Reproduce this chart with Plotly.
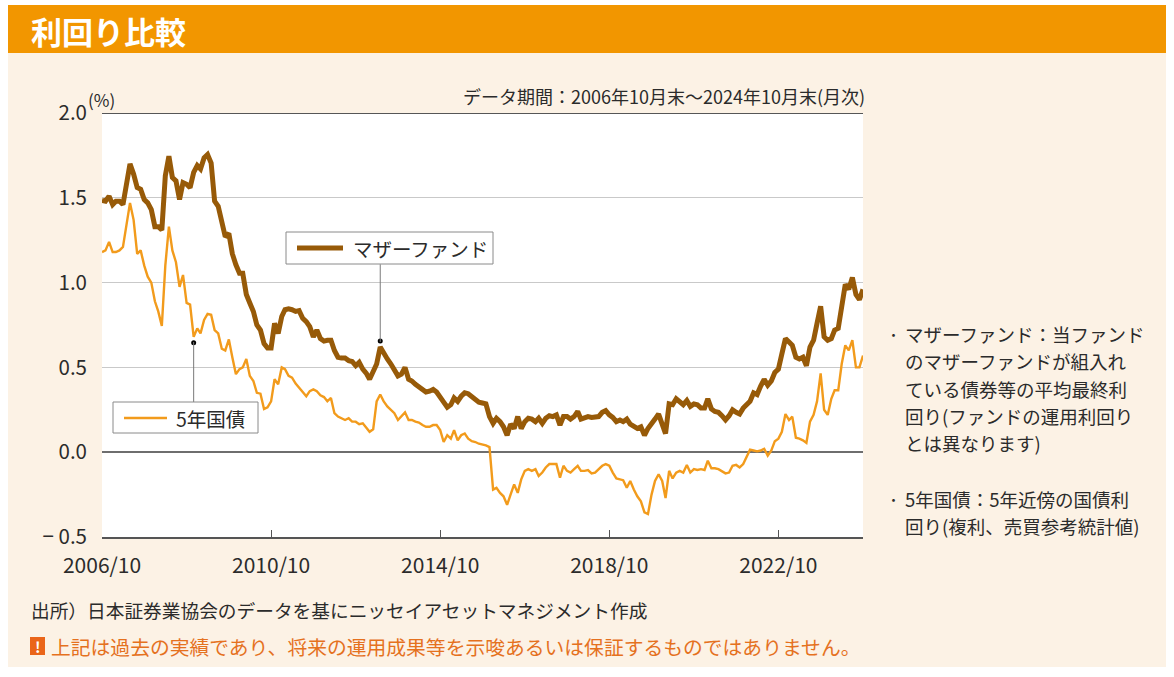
import pandas as pd
import plotly.graph_objects as go

# ---------------- data (monthly, 2006/10 - 2024/10) ----------------
n_months = 217
dates = pd.date_range(start="2006-10-31", periods=n_months, freq="ME")

mother_fund = [
    1.485, 1.48, 1.51, 1.46, 1.48, 1.48, 1.46, 1.60, 1.70, 1.64,
    1.56, 1.55, 1.49, 1.47, 1.43, 1.33, 1.33, 1.31, 1.63, 1.745,
    1.62, 1.60, 1.49, 1.59, 1.58, 1.56, 1.65, 1.69, 1.67, 1.735,
    1.755, 1.705, 1.48, 1.45, 1.37, 1.27, 1.29, 1.17, 1.105, 1.055,
    1.055, 0.93, 0.88, 0.83, 0.75, 0.72, 0.64, 0.615, 0.615, 0.76,
    0.70, 0.80, 0.84, 0.845, 0.84, 0.83, 0.835, 0.79, 0.77, 0.74,
    0.68, 0.72, 0.67, 0.655, 0.66, 0.66, 0.60, 0.56, 0.555, 0.555,
    0.54, 0.535, 0.51, 0.53, 0.49, 0.465, 0.43, 0.47, 0.52, 0.62,
    0.58, 0.55, 0.52, 0.49, 0.45, 0.46, 0.50, 0.43, 0.42, 0.40,
    0.385, 0.37, 0.355, 0.36, 0.37, 0.355, 0.33, 0.295, 0.265, 0.28,
    0.32, 0.30, 0.33, 0.35, 0.345, 0.325, 0.305, 0.295, 0.29, 0.285,
    0.21, 0.17, 0.20, 0.18, 0.15, 0.10, 0.165, 0.14, 0.21, 0.14,
    0.18, 0.20, 0.195, 0.18, 0.20, 0.17, 0.20, 0.215, 0.21, 0.22,
    0.16, 0.21, 0.21, 0.195, 0.21, 0.24, 0.195, 0.20, 0.21, 0.205,
    0.205, 0.21, 0.235, 0.245, 0.22, 0.205, 0.18, 0.19, 0.18, 0.195,
    0.165, 0.155, 0.14, 0.15, 0.10, 0.14, 0.175, 0.195, 0.225, 0.16,
    0.11, 0.285, 0.28, 0.315, 0.295, 0.28, 0.305, 0.27, 0.285, 0.28,
    0.26, 0.26, 0.315, 0.255, 0.24, 0.235, 0.215, 0.19, 0.215, 0.25,
    0.235, 0.225, 0.26, 0.28, 0.30, 0.35, 0.34, 0.39, 0.43, 0.395,
    0.42, 0.47, 0.49, 0.58, 0.67, 0.65, 0.63, 0.56, 0.55, 0.56,
    0.51, 0.62, 0.66, 0.76, 0.86, 0.68, 0.66, 0.67, 0.72, 0.73,
    0.88, 0.99, 0.96, 1.03, 0.93, 0.90, 0.96,
]

jgb_5y = [
    1.18, 1.19, 1.24, 1.18, 1.18, 1.19, 1.21, 1.35, 1.47, 1.37,
    1.17, 1.19, 1.10, 1.035, 1.00, 0.89, 0.83, 0.745, 1.10, 1.33,
    1.19, 1.12, 0.975, 1.045, 0.88, 0.87, 0.68, 0.73, 0.70, 0.78,
    0.815, 0.81, 0.72, 0.70, 0.61, 0.60, 0.665, 0.56, 0.46, 0.49,
    0.50, 0.55, 0.45, 0.42, 0.35, 0.345, 0.255, 0.265, 0.30, 0.43,
    0.40, 0.50, 0.49, 0.45, 0.44, 0.405, 0.38, 0.36, 0.33, 0.36,
    0.37, 0.36, 0.335, 0.325, 0.30, 0.32, 0.23, 0.21, 0.20, 0.19,
    0.20, 0.18, 0.18, 0.165, 0.17, 0.14, 0.12, 0.135, 0.30, 0.34,
    0.30, 0.27, 0.25, 0.23, 0.19, 0.21, 0.235, 0.19, 0.19, 0.18,
    0.175, 0.16, 0.15, 0.15, 0.16, 0.16, 0.13, 0.06, 0.10, 0.08,
    0.13, 0.07, 0.10, 0.11, 0.08, 0.065, 0.06, 0.05, 0.045, 0.04,
    0.03, -0.22, -0.21, -0.24, -0.26, -0.31, -0.25, -0.19, -0.24, -0.16,
    -0.11, -0.10, -0.11, -0.10, -0.14, -0.12, -0.09, -0.07, -0.07, -0.07,
    -0.15, -0.08, -0.11, -0.12, -0.10, -0.08, -0.11, -0.11, -0.105, -0.125,
    -0.12, -0.10, -0.08, -0.07, -0.08, -0.12, -0.155, -0.16, -0.165, -0.21,
    -0.17, -0.22, -0.26, -0.29, -0.355, -0.365, -0.25, -0.17, -0.13, -0.17,
    -0.27, -0.11, -0.155, -0.12, -0.11, -0.12, -0.075, -0.12, -0.10, -0.105,
    -0.10, -0.105, -0.05, -0.095, -0.095, -0.10, -0.11, -0.125, -0.12, -0.08,
    -0.075, -0.09, -0.07, -0.02, 0.015, 0.01, 0.005, 0.01, 0.02, -0.02,
    0.01, 0.065, 0.08, 0.12, 0.225, 0.19, 0.21, 0.085, 0.08, 0.07,
    0.055, 0.18, 0.22, 0.30, 0.465, 0.25, 0.22, 0.315, 0.365, 0.365,
    0.52, 0.63, 0.60, 0.66, 0.50, 0.50, 0.57,
]

x_tick_labels = ["2006/10", "2010/10", "2014/10", "2018/10", "2022/10"]
y_tick_values = [-0.5, 0.0, 0.5, 1.0, 1.5, 2.0]
y_tick_labels = ["− 0.5", "0.0", "0.5", "1.0", "1.5", "2.0"]

series_names = ["マザーファンド", "5年国債"]
title_text = "利回り比較"
period_text = "データ期間：2006年10月末～2024年10月末(月次)"
note_lines_1 = ["マザーファンド：当ファンド", "のマザーファンドが組入れ",
                "ている債券等の平均最終利",
                "回り(ファンドの運用利回り", "とは異なります)"]
note_lines_2 = ["5年国債：5年近傍の国債利", "回り(複利、売買参考統計値)"]
source_text = "出所）日本証券業協会のデータを基にニッセイアセットマネジメント作成"
warning_text = "上記は過去の実績であり、将来の運用成果等を示唆あるいは保証するものではありません。"

# ---------------- style ----------------
W, H = 1174, 677
PL, PR, PT, PB = 102, 863, 113, 537
FONT = "Noto Sans CJK JP"
BROWN = "#975A08"
ORANGE = "#F29B1C"
HEADER = "#F29600"
CREAM = "#FCF2E5"
TXT = "#2B2B2B"


def px(x):
    return (x - PL) / (PR - PL)


def py(y):
    return (PB - y) / (PB - PT)


tick_dates = [pd.Timestamp(s.replace("/", "-") + "-01") + pd.offsets.MonthEnd(0)
              for s in x_tick_labels]

fig = go.Figure()
fig.add_trace(go.Scatter(x=dates, y=jgb_5y, mode="lines", name=series_names[1],
                         line=dict(color=ORANGE, width=2.4), hoverinfo="skip"))
fig.add_trace(go.Scatter(x=dates, y=mother_fund, mode="lines", name=series_names[0],
                         line=dict(color=BROWN, width=5, shape="linear"),
                         hoverinfo="skip"))

shapes = [
    dict(type="rect", xref="paper", yref="paper", x0=px(8), x1=px(1166),
         y0=py(667), y1=py(53), fillcolor=CREAM, line_width=0, layer="below"),
    dict(type="rect", xref="paper", yref="paper", x0=px(8), x1=px(1166),
         y0=py(53), y1=py(5), fillcolor=HEADER, line_width=0, layer="below"),
    dict(type="rect", xref="paper", yref="paper", x0=0, x1=1, y0=0, y1=1,
         fillcolor="white", line_width=0, layer="below"),
    dict(type="line", xref="paper", yref="y", x0=0, x1=1, y0=2.0, y1=2.0,
         line=dict(color="#1E1E1E", width=1.5)),
]

m_jgb, m_mf = 26, 79
jgb_box_top = 0.295
mf_box_bottom = 1.108
shapes.append(dict(type="line", xref="x", yref="y", x0=dates[m_jgb], x1=dates[m_jgb],
                   y0=jgb_5y[m_jgb] - 0.03, y1=jgb_box_top,
                   line=dict(color="#7A7A7A", width=1)))
shapes.append(dict(type="line", xref="x", yref="y", x0=dates[m_mf], x1=dates[m_mf],
                   y0=mother_fund[m_mf] + 0.03, y1=mf_box_bottom,
                   line=dict(color="#7A7A7A", width=1)))

shapes.append(dict(type="rect", xref="paper", yref="paper", x0=px(286), x1=px(493),
                   y0=py(264), y1=py(232), fillcolor="white",
                   line=dict(color="#8A8A8A", width=1)))
shapes.append(dict(type="line", xref="paper", yref="paper", x0=px(297), x1=px(343),
                   y0=py(248), y1=py(248), line=dict(color=BROWN, width=5)))
shapes.append(dict(type="rect", xref="paper", yref="paper", x0=px(113), x1=px(258),
                   y0=py(433), y1=py(402), fillcolor="white",
                   line=dict(color="#8A8A8A", width=1)))
shapes.append(dict(type="line", xref="paper", yref="paper", x0=px(124), x1=px(167),
                   y0=py(418), y1=py(418), line=dict(color=ORANGE, width=2.4)))
shapes.append(dict(type="rect", xref="paper", yref="paper", x0=px(30), x1=px(45),
                   y0=py(655), y1=py(637), fillcolor="#EA6519", line_width=0))

fig.add_trace(go.Scatter(x=[dates[m_jgb], dates[m_mf]],
                         y=[jgb_5y[m_jgb] - 0.035, mother_fund[m_mf] + 0.035],
                         mode="markers", marker=dict(color="black", size=5),
                         hoverinfo="skip", showlegend=False))

ann = []


def add_text(text, x, y, size, color=TXT, xanchor="left", yanchor="middle", bold=False):
    ann.append(dict(text=("<b>%s</b>" % text) if bold else text, xref="paper",
                    yref="paper", x=px(x), y=py(y), xanchor=xanchor, yanchor=yanchor,
                    showarrow=False, font=dict(family=FONT, size=size, color=color)))


add_text(title_text, 29, 30, 31, color="white", bold=True)
add_text(period_text, 867, 96, 18, xanchor="right")
add_text("(%)", 86, 100, 17)
add_text(series_names[0], 351, 248, 19.5)
add_text(series_names[1], 174, 418, 19.5)

note_y1 = [334, 361, 389, 416, 443]
for i, line in enumerate(note_lines_1):
    add_text(line, 903, note_y1[i], 18.5)
note_y2 = [499, 526]
for i, line in enumerate(note_lines_2):
    add_text(line, 903, note_y2[i], 18.5)
add_text("・", 902, note_y1[0], 13, xanchor="right")
add_text("・", 902, note_y2[0], 13, xanchor="right")

add_text(source_text, 29, 609, 18.7)
add_text("!", 37.5, 646, 15, color="white", xanchor="center", bold=True)
add_text(warning_text, 49, 646, 19.8, color="#E5711E")

fig.update_layout(
    width=W, height=H,
    margin=dict(l=PL, r=W - PR, t=PT, b=H - PB, pad=0),
    paper_bgcolor="white", plot_bgcolor="rgba(0,0,0,0)",
    showlegend=False,
    shapes=shapes, annotations=ann,
    font=dict(family=FONT, color=TXT),
)
fig.update_xaxes(
    type="date", range=[dates[0], dates[-1]],
    tickmode="array", tickvals=tick_dates, ticktext=x_tick_labels,
    ticks="inside", ticklen=7, tickcolor="#555555", tickwidth=1,
    showline=True, linecolor="#555555", linewidth=1.5,
    showgrid=False, zeroline=False,
    tickfont=dict(family=FONT, size=21, color=TXT), ticklabelstandoff=9,
)
fig.update_yaxes(
    range=[-0.5, 2.0], tickmode="array", tickvals=y_tick_values, ticktext=y_tick_labels,
    showgrid=True, gridcolor="#C9C9C9", gridwidth=1,
    zeroline=True, zerolinecolor="#6E6E6E", zerolinewidth=2,
    showline=False, ticks="",
    tickfont=dict(family=FONT, size=20.5, color=TXT), ticklabelstandoff=14,
)

fig.write_html("out.html")
